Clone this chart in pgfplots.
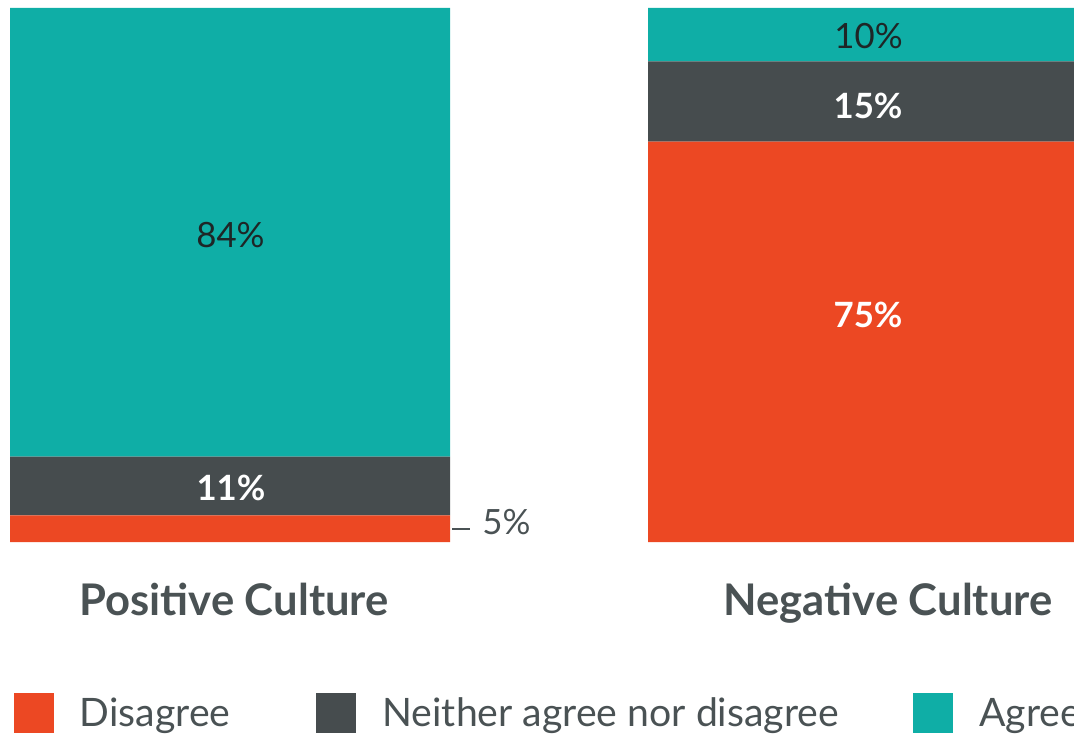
\documentclass[border=0pt]{standalone}
\usepackage{pgfplots}
\pgfplotsset{compat=1.18}
\usepackage{fontspec}
\setmainfont{Lato}
\definecolor{cDis}{HTML}{EC4823}
\definecolor{cNeu}{HTML}{464C4E}
\definecolor{cAgr}{HTML}{0FAEA6}
\definecolor{cTxt}{HTML}{4A5254}
\definecolor{cDark}{HTML}{1E2626}
\pgfplotsset{myframe/.style={anchor=south west,
  scale only axis, width=537pt, height=267pt,
  xmin=0, xmax=1074, ymin=0, ymax=100}}
\begin{document}
\begin{tikzpicture}
\useasboundingbox (0pt,-96pt) rectangle (537pt,271pt);
\begin{axis}[
  myframe,
  ybar stacked, bar width=440,
  axis line style={draw=none}, major tick length=0pt, tick style={draw=none},
  xtick={234,888}, xticklabels={Positive Culture, Negative Culture},
  xticklabel style={font=\fontsize{21.8}{24}\selectfont\bfseries, text=cTxt, anchor=base, yshift=-36.5pt},
  ytick=\empty,
  legend image code/.code={\fill[#1] (0pt,-9pt) rectangle (20pt,11pt);},
  legend columns=3,
  legend style={draw=none, fill=none, inner sep=0pt, outer sep=0pt,
    at={(axis description cs:0.013,-0.2828)}, anchor=north west,
    font=\fontsize{19.6}{22}\selectfont, text=cTxt,
    nodes={inner sep=0pt, text height=15pt, text depth=4pt},
    /tikz/column 1/.style={column sep=13pt},
    /tikz/column 2/.style={column sep=43pt},
    /tikz/column 3/.style={column sep=13pt},
    /tikz/column 4/.style={column sep=37pt},
    /tikz/column 5/.style={column sep=13pt}},
]
\addplot[fill=cDis, draw=none] coordinates {(230,5) (868,75)};
\addplot[fill=cNeu, draw=none] coordinates {(230,11) (868,15)};
\addplot[fill=cAgr, draw=none] coordinates {(230,84) (868,10)};
\legend{Disagree, Neither agree nor disagree, Agree}
\end{axis}
\begin{axis}[myframe, hide axis]
\node[font=\fontsize{17.4}{20}\selectfont, text=cDark] at (axis cs:230.5,57.4) {84\%};
\node[font=\fontsize{17.4}{20}\selectfont\bfseries, text=white] at (axis cs:231,10.2) {11\%};
\node[font=\fontsize{17.4}{20}\selectfont, text=cDark] at (axis cs:868.5,94.7) {10\%};
\node[font=\fontsize{17.4}{20}\selectfont\bfseries, text=white] at (axis cs:868,81.7) {15\%};
\node[font=\fontsize{17.4}{20}\selectfont\bfseries, text=white] at (axis cs:868,42.6) {75\%};
\draw[cTxt, line width=0.8pt] (axis cs:452,2.4) -- (axis cs:470,2.4);
\node[font=\fontsize{17.4}{20}\selectfont, text=cTxt, anchor=west, inner sep=0pt] at (axis cs:482,3.8) {5\%};
\end{axis}
\end{tikzpicture}
\end{document}
